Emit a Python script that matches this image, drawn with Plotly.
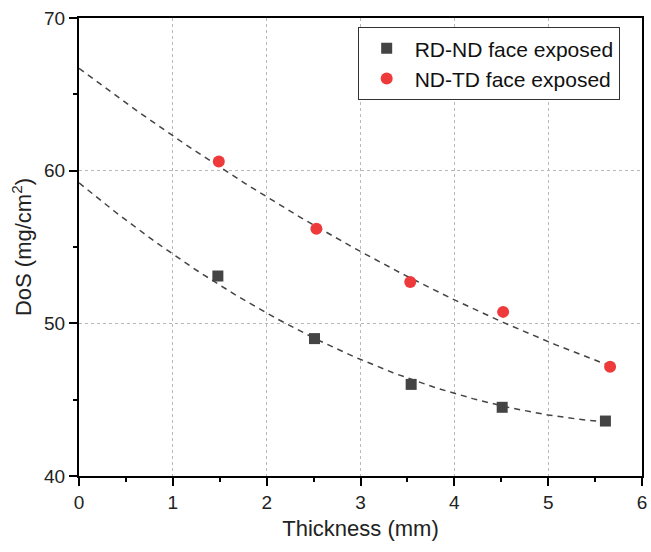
import numpy as np
import plotly.graph_objects as go

# Sample thickness (mm) and degree of sensitization (mg/cm^2)
rdnd_thickness = [1.48, 2.51, 3.54, 4.51, 5.61]
rdnd_dos = [53.1, 49.0, 46.0, 44.5, 43.6]

ndtd_thickness = [1.49, 2.53, 3.53, 4.52, 5.66]
ndtd_dos = [60.6, 56.2, 52.7, 50.75, 47.15]

# Quadratic trend coefficients (highest power first): DoS = a*t^2 + b*t + c
rdnd_trend = [0.408, -5.08, 59.2]
ndtd_trend = [0.21, -4.63, 66.7]

x_ticks = [0, 1, 2, 3, 4, 5, 6]
y_ticks = [40, 50, 60, 70]

FONT = "Liberation Sans, Arial, sans-serif"
DARK = "#444444"
RED = "#ee3a3a"

fig = go.Figure()

for coef, xs_src in [(rdnd_trend, rdnd_thickness), (ndtd_trend, ndtd_thickness)]:
    fx = np.linspace(0, max(xs_src), 120)
    fig.add_trace(go.Scatter(
        x=fx, y=np.polyval(coef, fx), mode="lines", showlegend=False, hoverinfo="skip",
        line=dict(color=DARK, width=1.5, dash="6px,5px"),
    ))

fig.add_trace(go.Scatter(
    x=rdnd_thickness, y=rdnd_dos, mode="markers", name="RD-ND face exposed",
    marker=dict(symbol="square", size=11, color=DARK, line=dict(width=0)),
))
fig.add_trace(go.Scatter(
    x=ndtd_thickness, y=ndtd_dos, mode="markers", name="ND-TD face exposed",
    marker=dict(symbol="circle", size=12, color=RED, line=dict(width=0)),
))

axis_common = dict(
    showline=True, linecolor="black", linewidth=2, mirror=True,
    ticks="outside", ticklen=8, tickwidth=2, tickcolor="black",
    showgrid=True, gridcolor="#b8b8b8", gridwidth=1, griddash="dot",
    zeroline=False,
    tickfont=dict(family=FONT, size=19, color="#222"),
    minor=dict(ticks="outside", ticklen=4, tickwidth=2, tickcolor="black", showgrid=False),
)

fig.update_xaxes(
    range=[0, 6], tickvals=x_ticks, minor_dtick=0.5,
    title=dict(text="Thickness (mm)", font=dict(family=FONT, size=22, color="#222"), standoff=9),
    **axis_common,
)
fig.update_yaxes(
    range=[40, 70], tickvals=y_ticks, minor_dtick=5,
    title=dict(text="DoS (mg/cm<sup>2</sup>)", font=dict(family=FONT, size=22, color="#222"), standoff=6),
    **axis_common,
)

fig.update_layout(
    width=651, height=552,
    margin=dict(l=79, r=4, t=18, b=76),
    plot_bgcolor="white", paper_bgcolor="white",
    font=dict(family=FONT, color="#222"),
    legend=dict(
        x=0.495, y=0.98, xanchor="left", yanchor="top",
        bgcolor="white", bordercolor="#333", borderwidth=1,
        font=dict(family=FONT, size=21, color="#111"),
        itemwidth=46, tracegroupgap=0,
    ),
)

fig.write_html("out.html")
